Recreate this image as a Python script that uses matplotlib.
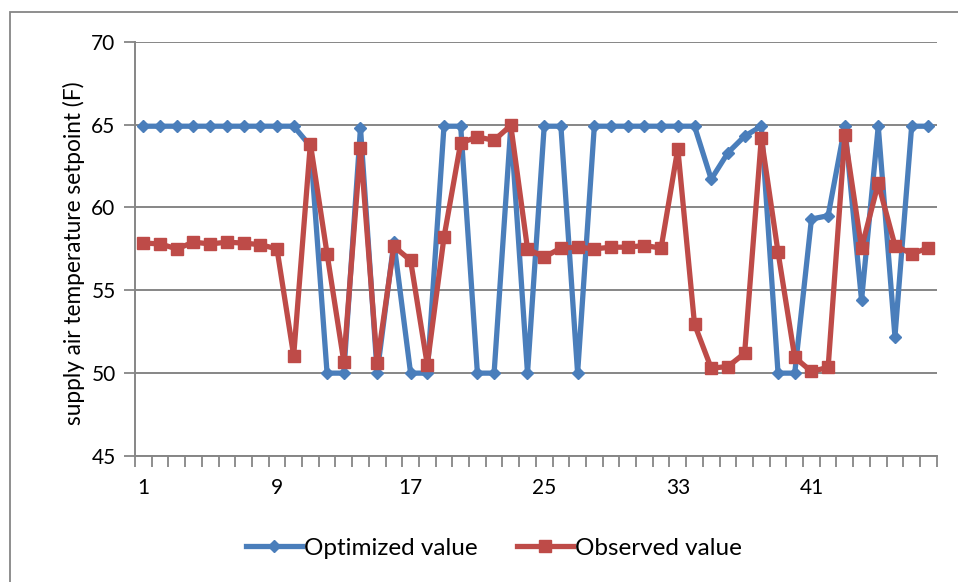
import matplotlib
matplotlib.use("Agg")
import matplotlib.pyplot as plt
from matplotlib.patches import Rectangle
from matplotlib.ticker import MultipleLocator, FixedLocator, NullFormatter

plt.rcParams['font.family'] = ['Lato', 'DejaVu Sans']

periods = list(range(1, 49))
optimized = [64.9, 64.9, 64.9, 64.9, 64.9, 64.9, 64.9, 64.9, 64.9, 64.9,
             63.7, 50.0, 50.0, 64.8, 50.0, 57.9, 50.0, 50.0, 64.9, 64.9,
             50.0, 50.0, 64.9, 50.0, 64.9, 64.9, 50.0, 64.9, 64.9, 64.9,
             64.9, 64.9, 64.9, 64.9, 61.7, 63.3, 64.3, 64.9, 50.0, 50.0,
             59.3, 59.5, 64.9, 54.4, 64.9, 52.2, 64.9, 64.9]
observed = [57.85, 57.8, 57.5, 57.9, 57.8, 57.9, 57.85, 57.75, 57.5, 51.05,
            63.85, 57.2, 50.7, 63.6, 50.6, 57.65, 56.8, 50.5, 58.2, 63.9,
            64.25, 64.05, 64.95, 57.5, 57.0, 57.55, 57.6, 57.5, 57.6, 57.6,
            57.7, 57.55, 63.55, 52.95, 50.3, 50.4, 51.2, 64.2, 57.3, 50.95,
            50.1, 50.35, 64.35, 57.55, 61.45, 57.7, 57.2, 57.55]
x_labels = [1, 9, 17, 25, 33, 41]

blue = '#4A7EBB'
red = '#BE4B48'
grid_grey = '#868686'

fig = plt.figure(figsize=(9.58, 5.82), dpi=100)
ax = fig.add_axes([135 / 958, 1 - 456 / 582, (936.7 - 135) / 958, (456 - 41.7) / 582])

# chart frame
fig.patches.append(Rectangle((10 / 958, -0.1), 1.2, 1 - 12 / 582 + 0.1,
                             transform=fig.transFigure, fill=False,
                             edgecolor=grid_grey, linewidth=1.3, zorder=0))

ax.plot(periods, optimized, color=blue, linewidth=3.8, marker='D',
        markersize=6.5, label='Optimized value', zorder=3,
        solid_joinstyle='round')
ax.plot(periods, observed, color=red, linewidth=3.8, marker='s',
        markersize=8, label='Observed value', zorder=4,
        solid_joinstyle='round')

ax.set_xlim(0.5, 48.5)
ax.set_ylim(45, 70)
ax.yaxis.set_major_locator(MultipleLocator(5))
ax.grid(axis='y', color=grid_grey, linewidth=1.4)
ax.set_axisbelow(True)

ax.xaxis.set_major_locator(FixedLocator(x_labels))
ax.set_xticklabels([str(v) for v in x_labels])
ax.xaxis.set_minor_locator(FixedLocator([i + 0.5 for i in range(0, 49)]))
ax.xaxis.set_minor_formatter(NullFormatter())
ax.tick_params(axis='x', which='major', length=0, pad=16, labelsize=15)
ax.tick_params(axis='x', which='minor', length=8, width=1.3, color=grid_grey,
               direction='out')
ax.tick_params(axis='y', which='major', length=8, width=1.3, color=grid_grey,
               pad=6, labelsize=15)

for side in ('top', 'right'):
    ax.spines[side].set_visible(False)
for side in ('left', 'bottom'):
    ax.spines[side].set_color(grid_grey)
    ax.spines[side].set_linewidth(1.4)

ax.set_ylabel('supply air temperature setpoint (F)', fontsize=16.3)
ax.yaxis.set_label_coords(-0.062, 0.49)

fig.legend(loc='center', bbox_to_anchor=(494 / 958, 1 - 548 / 582), ncol=2,
           frameon=False, fontsize=17.5, handlelength=2.3, handletextpad=0.1,
           columnspacing=1.6)

fig.savefig('out.png', dpi=100)
